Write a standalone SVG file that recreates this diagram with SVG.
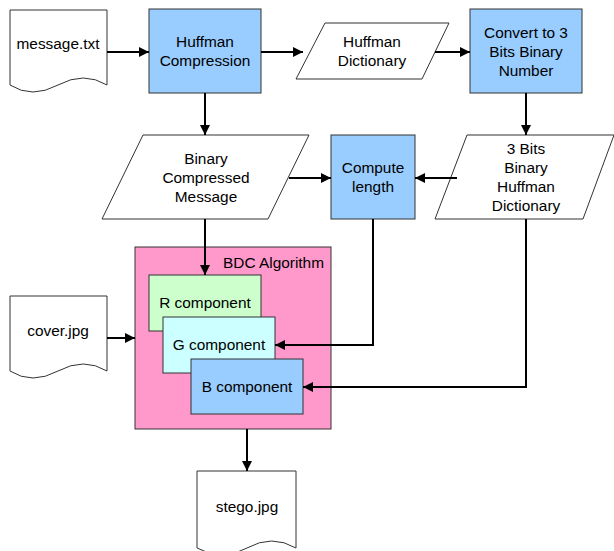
<svg xmlns="http://www.w3.org/2000/svg" width="614" height="551" viewBox="0 0 614 551">
<defs>
<marker id="ah" viewBox="0 0 10 10" refX="10" refY="5" markerWidth="10" markerHeight="10" markerUnits="userSpaceOnUse" orient="auto">
<path d="M0,0 L10,5 L0,10 Z" fill="#000"/>
</marker>
<style>
.s{stroke:#333;stroke-width:1}
.doc{fill:#fff}
.blue{fill:#99CCFF}
.pink{fill:#FF99CC}
.green{fill:#CCFFCC}
.cyan{fill:#CCFFFF}
.t{font-family:"Liberation Sans",Arial,sans-serif;font-size:15.4px;fill:#000;text-anchor:middle}
.c{fill:none;stroke:#000;stroke-width:2;marker-end:url(#ah)}
</style>
</defs>
<rect width="614" height="551" fill="#fff"/>
<g id="message">
<path class="s doc" d="M10,10 H107 V85 Q84,71 58,85 T10,85 Z"/>
<text class="t" x="58" y="49">message.txt</text>
</g>
<g id="huffman">
<rect class="s blue" x="149" y="9" width="112" height="84"/>
<text class="t" x="205" y="47">Huffman</text>
<text class="t" x="205" y="66">Compression</text>
</g>
<g id="dict">
<path class="s doc" d="M325,23 H449 L422,79 H296 Z"/>
<text class="t" x="372" y="47">Huffman</text>
<text class="t" x="372" y="66">Dictionary</text>
</g>
<g id="convert">
<rect class="s blue" x="470" y="9" width="112" height="84"/>
<text class="t" x="526" y="38">Convert to 3</text>
<text class="t" x="526" y="57">Bits Binary</text>
<text class="t" x="526" y="76">Number</text>
</g>
<g id="binary">
<path class="s doc" d="M143,135 H309 L268,219 H102 Z"/>
<text class="t" x="206" y="164">Binary</text>
<text class="t" x="206" y="183">Compressed</text>
<text class="t" x="206" y="202">Message</text>
</g>
<g id="compute">
<rect class="s blue" x="331" y="135" width="84" height="84"/>
<text class="t" x="373" y="173">Compute</text>
<text class="t" x="373" y="192">length</text>
</g>
<g id="bits3">
<path class="s doc" d="M467,135 H614 L583,219 H435 Z"/>
<text class="t" x="526" y="154">3 Bits</text>
<text class="t" x="526" y="173">Binary</text>
<text class="t" x="526" y="192">Huffman</text>
<text class="t" x="526" y="211">Dictionary</text>
</g>
<g id="bdc">
<rect class="s pink" x="135" y="247" width="196" height="182"/>
<text class="t" x="324" y="268" style="text-anchor:end">BDC Algorithm</text>
</g>
<g id="rcomp">
<rect class="s green" x="149" y="275" width="112" height="56"/>
<text class="t" x="205" y="308">R component</text>
</g>
<g id="gcomp">
<rect class="s cyan" x="163" y="317" width="112" height="56"/>
<text class="t" x="219" y="350">G component</text>
</g>
<g id="bcomp">
<rect class="s blue" x="191" y="359" width="112" height="55"/>
<text class="t" x="247" y="392">B component</text>
</g>
<g id="cover">
<path class="s doc" d="M10,296 H107 V371 Q84,357 58,371 T10,371 Z"/>
<text class="t" x="58" y="336">cover.jpg</text>
</g>
<g id="stego">
<path class="s doc" d="M197,471 H296 V548 Q272,534 247,548 T197,548 Z"/>
<text class="t" x="247" y="512">stego.jpg</text>
</g>
<g id="connectors">
<path class="c" d="M107,52 H149"/>
<path class="c" d="M261,52 H303"/>
<path class="c" d="M435,52 H470"/>
<path class="c" d="M526,93 V135"/>
<path class="c" d="M205,93 V135"/>
<path class="c" d="M289,178 H331"/>
<path class="c" d="M457,178 H415"/>
<path class="c" d="M205,219 V275"/>
<path class="c" d="M373,219 V345 H275"/>
<path class="c" d="M526,219 V387 H303"/>
<path class="c" d="M107,338 H135"/>
<path class="c" d="M247,429 V471"/>
</g>
</svg>
